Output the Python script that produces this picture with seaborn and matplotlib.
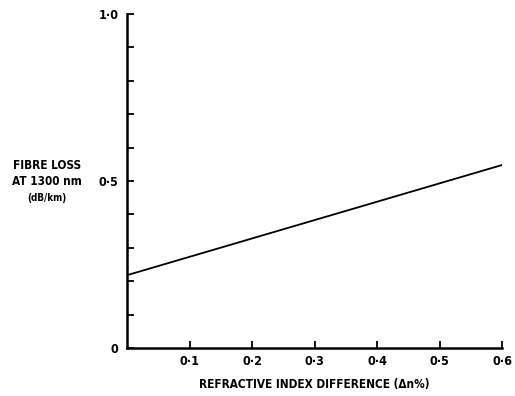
import matplotlib
matplotlib.use("Agg")
import matplotlib.pyplot as plt
import seaborn as sns
import pandas as pd

delta_n = [0.0, 0.6]
fibre_loss = [0.218, 0.548]
x_ticks = [0.1, 0.2, 0.3, 0.4, 0.5, 0.6]
x_tick_labels = ["0·1", "0·2", "0·3", "0·4", "0·5", "0·6"]
y_ticks = [0.0, 0.1, 0.2, 0.3, 0.4, 0.5, 0.6, 0.7, 0.8, 0.9, 1.0]
y_tick_labels = ["0", "", "", "", "", "0·5", "", "", "", "", "1·0"]

sns.set_theme(style="white")
plt.rcParams['font.family'] = ['DejaVu Sans']
plt.rcParams['font.stretch'] = 'condensed'

df = pd.DataFrame({"dn": delta_n, "loss": fibre_loss})

fig = plt.figure(figsize=(5.15, 3.96), dpi=100)
ax = fig.add_axes([0.2466, 0.1212, 0.7284, 0.8434])
sns.lineplot(data=df, x="dn", y="loss", ax=ax, color="black", linewidth=1.3)

ax.set_xlim(0, 0.6)
ax.set_ylim(0, 1.0)
ax.set_xticks(x_ticks)
ax.set_xticklabels(x_tick_labels)
ax.set_yticks(y_ticks)
ax.set_yticklabels(y_tick_labels)
ax.tick_params(axis="both", direction="in", length=5, width=1.3, color="black",
               labelsize=9, labelcolor="black", bottom=True, left=True)
ax.tick_params(axis="x", pad=5)
ax.tick_params(axis="y", pad=6)
for lab in ax.get_xticklabels() + ax.get_yticklabels():
    lab.set_fontweight("bold")
    lab.set_fontstretch("condensed")

for s in ["top", "right"]:
    ax.spines[s].set_visible(False)
for s in ["left", "bottom"]:
    ax.spines[s].set_color("black")
    ax.spines[s].set_linewidth(1.8)

ax.set_xlabel("REFRACTIVE INDEX DIFFERENCE (Δn%)", fontsize=8.5, fontweight="bold",
              labelpad=7, color="black", fontstretch="condensed")
ax.set_ylabel("")
fig.text(0.091, 0.562, "FIBRE LOSS\nAT 1300 nm", ha="center", va="center",
         fontsize=8.5, fontweight="bold", linespacing=1.3, color="black",
         fontstretch="condensed")
fig.text(0.091, 0.50, "(dB/km)", ha="center", va="center", fontsize=7,
         fontweight="bold", color="black", fontstretch="condensed")

fig.savefig("out.png", dpi=100, facecolor="white")
